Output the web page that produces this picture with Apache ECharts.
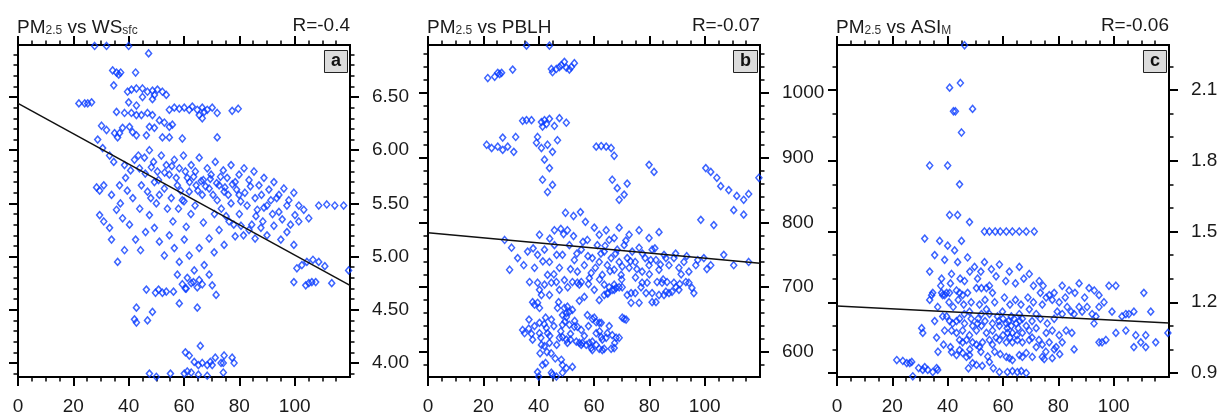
<!DOCTYPE html>
<html>
<head>
<meta charset="utf-8">
<script src="https://cdn.jsdelivr.net/npm/echarts@6/dist/echarts.min.js"></script>
<style>
  html, body { margin: 0; padding: 0; background: #fff; }
  #chart { width: 1220px; height: 419px; }
</style>
</head>
<body>
<div id="chart"></div>
<script>
// tick values
var xTicks = [0, 20, 40, 60, 80, 100];
var wsTicks = [4.0, 4.5, 5.0, 5.5, 6.0, 6.5];
var wsMinor = [3.9, 4.1, 4.2, 4.3, 4.4, 4.6, 4.7, 4.8, 4.9, 5.1, 5.2, 5.3, 5.4, 5.6, 5.7, 5.8, 5.9, 6.1, 6.2, 6.3, 6.4, 6.6, 6.7, 6.8, 6.9];
var pblhTicks = [600, 700, 800, 900, 1000];
var pblhMinor = [580, 620, 640, 660, 680, 720, 740, 760, 780, 820, 840, 860, 880, 920, 940, 960, 980, 1020, 1040, 1060];
var asiTicks = [0.9, 1.2, 1.5, 1.8, 2.1];
var asiMinor = [1.0, 1.1, 1.3, 1.4, 1.6, 1.7, 1.9, 2.0, 2.2];

// PM2.5 (x) against surface wind speed
var wsPoints = [
  [27.7,6.98],[32.0,6.98],[40.0,6.98],[47.2,6.91],
  [34.2,6.75],[35.6,6.73],[37.1,6.73],[36.4,6.71],[42.5,6.73],[34.6,6.61],
  [39.6,6.55],[41.0,6.57],[42.8,6.58],[45.0,6.58],[46.8,6.55],[48.6,6.56],[49.3,6.52],[50.4,6.57],[52.2,6.55],[53.6,6.52],[45.0,6.50],[48.6,6.48],[40.0,6.45],[42.8,6.42],
  [22.0,6.44],[24.1,6.44],[25.2,6.44],[26.6,6.45],
  [54.7,6.38],[56.5,6.40],[58.3,6.39],[60.1,6.40],[61.9,6.38],[63.0,6.41],[64.8,6.38],[66.6,6.40],[67.3,6.36],[68.4,6.38],[70.2,6.40],[72.0,6.35],[77.4,6.37],[79.6,6.39],[65.5,6.33],[66.6,6.30],
  [35.6,6.36],[38.5,6.35],[41.0,6.35],[42.8,6.33],[44.6,6.33],[46.8,6.35],[48.6,6.33],
  [30.2,6.23],[32.0,6.19],[34.9,6.16],[36.7,6.16],[37.8,6.21],[40.3,6.22],[41.4,6.17],[42.8,6.14],[36.0,6.12],
  [47.5,6.22],[49.3,6.21],[51.1,6.28],[52.9,6.26],[54.7,6.22],[55.8,6.24],[46.4,6.14],[52.2,6.12],[54.7,6.12],[59.4,6.11],[72.0,6.12],
  [28.8,6.10],[30.6,6.02],[33.1,5.95],[34.6,5.89],[28.4,5.65],[29.5,5.62],[31.0,5.67],[33.8,5.58],[36.7,5.67],[38.9,5.74],[40.7,5.81],[38.5,5.86],[42.1,5.91],[43.9,5.83],[45.7,5.93],[47.5,6.00],[49.0,5.89],[50.4,5.80],[51.8,5.95],[53.6,5.86],[54.7,5.77],[56.5,5.91],[58.3,5.83],[59.8,5.95],[61.2,5.74],[62.6,5.86],[64.1,5.80],[65.5,5.93],[67.0,5.72],[68.4,5.83],[69.8,5.77],[71.3,5.89],[72.7,5.67],[74.2,5.81],[75.6,5.74],[77.0,5.86],[78.5,5.70],[79.9,5.77],[81.7,5.83],[83.5,5.72],[85.3,5.80],[87.1,5.67],[88.9,5.74],[90.7,5.63],[92.5,5.70],[94.3,5.58],[96.1,5.64],[97.9,5.53],[99.7,5.60],[101.5,5.48],
  [44.6,5.67],[46.8,5.61],[49.3,5.70],[51.1,5.58],[52.9,5.64],[55.4,5.55],[57.6,5.67],[59.4,5.53],[61.9,5.61],[64.4,5.67],[66.6,5.58],[69.1,5.64],[72.0,5.53],[74.5,5.61],[77.0,5.50],[79.9,5.58],[82.8,5.48],[85.7,5.55],[88.9,5.46],[91.4,5.53],[94.3,5.42],[97.2,5.48],[100.1,5.39],[103.3,5.44],[108.7,5.48],[111.6,5.49],[114.5,5.48],[117.7,5.48],[101.5,5.33],[105.1,5.36],
  [43.5,5.95],[46.0,5.78],[48.2,5.84],[50.8,5.72],[53.0,5.79],[55.6,5.85],[57.2,5.74],[58.8,5.62],[60.5,5.80],[62.0,5.70],[63.5,5.75],[65.0,5.62],[66.2,5.71],[67.8,5.66],[69.5,5.73],[70.5,5.58],[71.8,5.69],[73.2,5.75],[74.8,5.65],[76.0,5.58],[77.5,5.68],[79.0,5.63],[80.5,5.52],[82.0,5.60],[84.0,5.66],[86.5,5.44],[88.0,5.58],[90.0,5.48],[92.0,5.40],[93.5,5.55],[95.5,5.35],[98.5,5.30],[84.5,5.30],[86.0,5.38],[88.5,5.33],[80.0,5.40],[81.5,5.20],[78.0,5.30],[62.5,5.40],[64.0,5.48],[58.0,5.45],[60.0,5.52],[56.0,5.33],[54.0,5.45],[50.0,5.50],[48.0,5.55],[44.0,5.45],[41.5,5.55],[39.5,5.62],[37.0,5.50],[60.8,5.28],[67.0,5.32],[71.0,5.40],[73.5,5.45],[75.2,5.38],
  [29.5,5.39],[31.0,5.33],[33.1,5.27],[35.6,5.44],[37.8,5.36],[40.3,5.30],[42.5,5.16],[44.3,5.06],[46.1,5.23],[47.5,5.39],[49.3,5.27],[51.1,5.14],[52.9,5.01],[54.7,5.20],[56.5,5.08],[58.3,4.95],[60.1,5.16],[61.9,5.01],[63.7,4.87],[65.5,5.08],[67.3,4.92],[69.1,5.17],[70.9,5.04],[72.7,5.25],[74.5,5.11],[76.3,5.33],[78.5,5.19],[80.6,5.29],[83.5,5.25],[85.7,5.17],[87.8,5.27],[90.0,5.20],[92.5,5.29],[95.0,5.16],[97.2,5.23],[99.7,5.11],[57.6,4.83],[61.2,4.80],[65.5,4.78],[69.1,4.83],[38.5,5.06],[36.0,4.95],[33.8,5.16],
  [100.8,4.89],[102.6,4.92],[104.4,4.95],[106.6,4.97],[108.7,4.95],[110.9,4.91],[99.7,4.76],[104.0,4.73],[105.1,4.75],[106.2,4.76],[107.6,4.76],[113.4,4.75],[119.5,4.87],
  [46.4,4.69],[49.7,4.66],[50.8,4.69],[52.2,4.66],[53.6,4.67],[56.2,4.67],[42.8,4.52],[42.1,4.41],[42.8,4.38],[46.8,4.40],[48.6,4.48],[58.3,4.56],[60.5,4.70],[59.4,4.74],[60.8,4.70],[62.6,4.75],[63.4,4.76],[64.8,4.71],[66.6,4.74],[70.2,4.73],[71.6,4.64],[64.8,4.52],
  [60.5,4.10],[61.9,4.07],[65.9,4.16],[63.7,4.01],[65.2,3.98],[66.6,4.00],[68.4,3.98],[69.5,4.01],[70.2,3.98],[71.3,4.05],[73.4,4.00],[74.2,4.00],[74.5,4.07],[77.4,4.05],[78.1,4.00],[74.2,3.91],[47.5,3.90],[55.1,3.90],[60.1,3.90],[61.2,3.92],[62.6,3.91],[65.2,3.89],[68.4,3.88],[50.0,3.87]
];

// PM2.5 (x) against boundary layer height
var pblhPoints = [
  [35.6,1073],[43.9,1073],
  [21.6,1023],[24.1,1025],[25.2,1031],[25.9,1029],[26.6,1031],[30.6,1036],
  [44.6,1037],[45.0,1032],[46.4,1037],[47.5,1040],[48.2,1043],[49.3,1048],[50.0,1039],[51.1,1036],[51.8,1040],[52.9,1046],
  [34.2,957],[35.6,958],[37.4,958],[41.0,955],[42.1,958],[43.9,960],[41.4,948],[42.8,952],[45.7,949],[47.5,961],[50.0,954],
  [27.0,931],[31.7,932],[39.6,932],
  [21.2,920],[23.0,915],[25.2,917],[27.0,912],[28.8,917],[31.0,909],[39.2,923],[41.0,915],[43.2,920],[45.0,909],[46.8,927],
  [42.1,897],[43.9,884],[45.0,858],[41.4,866],[43.2,847],
  [60.8,917],[62.6,918],[64.4,917],[66.2,915],[67.3,903],
  [66.6,866],[68.4,853],[70.9,843],[72.0,860],[69.1,835],
  [79.9,889],[81.7,878],
  [100.4,884],[102.2,878],[104.4,869],[105.8,856],[108.7,850],[111.6,841],[114.1,835],[115.9,844],[110.5,819],[114.1,812],[119.6,869],[98.6,804],[103.3,796],
  [49.7,815],[52.6,810],[55.1,816],[50.4,788],[52.6,779],[56.9,801],
  [27.7,773],[30.2,761],[32.4,745],[34.6,734],[29.5,727],[36.0,755],
  [40.3,781],[42.1,758],[43.9,739],[43.2,719],[45.7,765],[47.5,730],[48.6,750],[49.3,711],[51.1,765],[52.9,742],[54.0,724],[55.4,758],[56.5,734],[57.6,773],[58.3,714],[59.4,745],[60.5,730],[61.2,765],[61.9,739],[63.0,719],[63.7,755],[64.8,734],[65.5,773],[66.2,745],[67.3,727],[68.4,758],[69.1,739],[69.8,719],[70.9,765],[72.0,745],[72.7,730],[73.8,755],[74.9,739],[76.3,761],[77.4,724],[78.5,745],[79.9,734],[81.0,758],[82.4,742],[83.5,727],[85.3,750],[87.1,734],[88.9,745],[90.7,730],[92.5,739],[94.3,724],[96.8,734],[99.7,745],[102.2,734],
  [44.0,775],[46.5,750],[49.0,782],[51.5,728],[53.8,752],[56.0,770],[57.8,748],[59.0,722],[62.5,752],[64.0,764],[65.8,725],[67.8,752],[70.2,732],[71.5,772],[73.2,740],[75.5,728],[77.5,752],[80.5,742],[82.0,760],[84.0,735],[86.0,745],[89.5,752],[91.5,720],[93.5,748],[97.5,742],[100.8,728],[58.0,705],[62.0,712],[65.0,690],[70.0,712],[75.0,715],[80.0,720],[85.0,712],[91.0,705],[56.5,685],[50.5,700],[45.5,720],[41.5,740],[38.0,760],[48.0,790],
  [60.1,792],[61.9,781],[64.4,788],[67.3,776],[69.1,792],[72.7,781],[76.3,788],[79.9,776],[83.5,785],[54.7,704],[60.1,696],[47.5,696],[42.1,704],[63.7,704],[67.3,696],[45.7,788],[38.5,730],[36.7,708],[39.6,750],[106.9,750],[110.5,734],[115.9,739],
  [34.2,634],[34.9,629],[36.4,636],[37.8,619],[37.4,628],[40.3,629],[41.0,611],[42.1,609],[42.8,637],[43.2,629],[43.9,614],[40.3,645],[42.5,653],[44.6,650],[47.5,622],[48.6,623],[50.0,619],[50.4,614],[51.5,619],[53.6,616],[54.7,614],[55.4,611],[55.8,614],[57.2,611],[58.3,614],[59.4,616],[60.8,611],[59.0,606],[59.4,603],[61.9,605],[63.0,603],[63.7,605],[66.2,605],[67.3,606],[60.8,629],[62.6,623],[63.0,619],[64.4,622],[64.8,629],[66.6,626],[68.0,622],[69.1,622],[61.9,645],[59.4,651],[60.8,646],[62.6,645],[70.9,651],[71.6,650],[57.6,657],[60.1,653],[55.4,634],[54.0,639],[51.1,642],[48.6,642],[52.9,639],
  [36.5,650],[38.5,640],[40.8,622],[42.0,643],[44.0,625],[45.5,640],[46.5,611],[48.0,632],[49.5,647],[51.5,628],[53.0,648],[56.5,625],[58.0,640],[62.0,632],[65.5,640],[67.5,614],[44.5,598],[46.0,590],[43.0,600],[40.5,598],
  [40.3,696],[39.6,707],[41.0,688],[37.8,677],[38.5,673],[39.6,676],[40.3,668],[43.9,688],[47.2,677],[46.8,668],[49.3,668],[50.4,670],[51.1,662],[50.0,660],[52.2,665],[48.6,657],[50.0,654],[54.7,679],[44.6,707],[46.4,708],[52.2,708],[54.0,707],[55.4,708],
  [39.6,569],[41.4,580],[42.5,583],[44.6,568],[45.0,565],[46.4,562],[48.2,588],[48.6,580],[50.0,575],[48.6,568],[52.2,577],[40.0,562],
  [61.9,680],[63.7,688],[64.8,691],[65.5,700],[66.6,696],[67.3,704],[68.0,699],[69.1,700],[70.2,700],[72.0,688],[73.4,691],[73.4,676],[74.9,691],[76.3,676],[77.0,700],[78.8,691],[81.0,691],[81.0,677],[82.4,677],[83.5,688],[85.3,688],[86.0,693],[87.1,691],[88.2,693],[89.6,700],[90.7,696],[93.2,708],[94.3,707],[95.4,699],[96.1,691],[70.2,653],[77.4,707],[79.2,707],[82.8,708],[84.6,707],[86.4,708],[88.9,707]
];

// PM2.5 (x) against ASI_M
var asiPoints = [
  [46.1,2.29],[40.7,2.11],[44.6,2.13],[42.1,2.01],[42.8,2.01],[49.0,2.02],[45.0,1.92],
  [33.5,1.78],[40.0,1.78],[44.3,1.70],[43.6,1.57],[47.9,1.54],[40.7,1.57],
  [53.3,1.50],[55.1,1.50],[57.2,1.50],[59.0,1.50],[61.2,1.50],[63.4,1.50],[65.9,1.50],[68.4,1.50],[71.3,1.50],
  [31.7,1.47],[37.1,1.46],[40.0,1.44],[42.5,1.42],[45.0,1.46],[35.3,1.40],[38.9,1.38],[43.6,1.37],[47.2,1.39],[49.7,1.35],[53.3,1.37],[55.8,1.34],[58.7,1.36],[62.3,1.33],[65.9,1.35],[33.5,1.33],[37.8,1.30],[41.4,1.32],[46.1,1.29],[50.8,1.30],[69.5,1.32],[73.1,1.29],[81.4,1.27],[83.9,1.25],[87.5,1.28],[91.1,1.26],[94.7,1.23],[98.3,1.27],[100.8,1.27],[110.9,1.24],
  [34.6,1.24],[34.2,1.23],[37.8,1.24],[38.2,1.23],[38.9,1.23],[39.6,1.24],[40.7,1.24],[43.2,1.25],[44.3,1.24],[45.4,1.23],[47.2,1.24],[50.4,1.26],[52.2,1.26],[54.0,1.26],[55.1,1.27],[56.2,1.24],
  [39.6,1.14],[40.7,1.12],[41.8,1.11],[43.2,1.12],[44.3,1.13],[46.1,1.11],[47.9,1.16],[49.0,1.10],[50.8,1.11],[52.2,1.15],[54.0,1.17],[55.1,1.15],[56.2,1.11],[58.0,1.14],[59.8,1.16],[61.2,1.11],[63.0,1.14],[64.8,1.11],[65.9,1.15],[67.0,1.13],[68.4,1.10],[69.5,1.17],[72.0,1.15],[74.2,1.19],[75.6,1.22],[76.7,1.23],[77.8,1.21],[79.6,1.16],[80.3,1.20],[81.4,1.15],[83.2,1.18],[84.6,1.16],[85.7,1.15],[87.5,1.18],[88.6,1.16],[90.4,1.18],[92.2,1.15],[93.6,1.14],[94.7,1.18],[96.5,1.20],[99.4,1.16],[103.0,1.14],[104.4,1.15],[105.5,1.15],[107.3,1.16],[113.4,1.16],[30.6,1.09],[31.0,1.07],[36.0,1.05],[38.2,1.14],[92.9,1.11],
  [33.5,1.21],[36.4,1.18],[38.9,1.08],[35.3,1.12],
  [40.5,1.20],[42.0,1.18],[43.8,1.21],[45.8,1.19],[48.5,1.20],[51.5,1.19],[53.5,1.21],[57.0,1.20],[60.5,1.22],[62.5,1.19],[64.5,1.21],[66.5,1.19],[69.0,1.22],[71.0,1.20],[73.5,1.24],[78.5,1.24],[82.5,1.22],[86.0,1.24],[89.5,1.22],[93.0,1.25],[60.0,1.13],[62.0,1.12],[64.0,1.13],[66.0,1.12],[63.0,1.10],[65.5,1.09],[61.5,1.09],[58.5,1.12],[70.5,1.12],[73.5,1.13],[76.0,1.11],[78.5,1.13],[48.5,1.13],[46.0,1.15],[51.0,1.13],[53.5,1.12],[57.5,1.05],[60.0,1.06],[62.5,1.05],[65.0,1.06],[70.5,1.05],[73.0,1.04],[48.0,1.00],[52.0,0.99],[54.5,0.97],[57.0,0.99],[59.0,0.98],[75.5,0.99],[78.5,1.00],[80.5,0.98],[47.5,0.92],[52.5,0.93],[56.5,0.92],[41.0,1.01],[38.5,1.02],[36.5,0.99],[37.5,1.27],[41.0,1.28],[44.5,1.30],[48.0,1.33],[52.0,1.33],[57.5,1.31],[61.0,1.29],[64.5,1.28],[67.5,1.30],[71.0,1.27],[74.5,1.27],
  [94.7,1.03],[95.8,1.03],[97.2,1.04],[100.8,1.07],[104.4,1.08],[108.0,1.06],[111.6,1.06],[107.3,1.01],[111.6,1.01],[115.2,1.03],[109.8,1.03],[119.6,1.07],
  [21.6,0.955],[23.8,0.951],[25.2,0.942],[26.3,0.942],[27.0,0.947],[29.5,0.921],[31.0,0.913],[31.7,0.925],[32.8,0.913],[34.6,0.904],[36.0,0.921],[36.4,0.913],[27.4,0.886],[58.7,0.904],[61.6,0.904],[63.4,0.908],[65.2,0.904],[66.6,0.908],[68.4,0.900],
  [41.4,0.989],[43.2,0.976],[44.3,0.997],[45.4,0.985],[46.8,0.968],[47.9,0.976],[49.0,0.942],[50.4,0.934],[55.1,0.947],[61.2,0.968],[62.3,0.963],[63.4,0.955],[65.9,0.976],[67.0,0.968],[68.4,0.985],[70.6,0.968],[74.2,0.968],[74.9,0.959],[77.8,0.963],
  [44.3,1.04],[45.4,1.03],[46.8,1.04],[49.0,1.03],[50.4,1.02],[51.5,1.01],[52.6,1.03],[55.1,1.04],[56.2,1.02],[58.7,1.04],[61.2,1.03],[63.4,1.03],[65.2,1.04],[67.0,1.03],[69.5,1.04],[72.0,1.01],[74.2,1.02],[76.7,1.03],[79.2,1.01],[81.4,1.03],[85.7,1.00],
  [41.4,1.08],[43.2,1.07],[45.4,1.08],[47.9,1.06],[50.4,1.08],[52.2,1.10],[54.0,1.07],[56.2,1.08],[58.7,1.10],[61.6,1.07],[63.4,1.07],[67.0,1.07],[69.5,1.08],[72.0,1.09],[75.6,1.07],[77.8,1.08],[80.3,1.06],[82.8,1.08],[84.9,1.07]
];

// regression lines (end points)
var wsFit = [[0, 6.44], [120, 4.73]];
var pblhFit = [[0, 784], [120, 737]];
var asiFit = [[0, 1.184], [120, 1.112]];

var FONT = 'Liberation Sans, Arial, Helvetica, sans-serif';
var INK = '#1a1a1a';

var panels = [
  {left: 18, title: '{m|PM}{s|2.5}{m| vs WS}{s|sfc}', r: 'R=-0.4', tag: 'a',
   min: 3.868, max: 6.989, ticks: wsTicks, minor: wsMinor, digits: 2, points: wsPoints, fit: wsFit},
  {left: 428, title: '{m|PM}{s|2.5}{m| vs PBLH}', r: 'R=-0.07', tag: 'b',
   min: 561.4, max: 1074, ticks: pblhTicks, minor: pblhMinor, digits: 0, points: pblhPoints, fit: pblhFit},
  {left: 837, title: '{m|PM}{s|2.5}{m| vs ASI}{s|M}', r: 'R=-0.06', tag: 'c',
   min: 0.883, max: 2.291, ticks: asiTicks, minor: asiMinor, digits: 1, points: asiPoints, fit: asiFit}
];
var W = 332, H = 332, TOP = 45;

function makeX(gi, pos, labels) {
  return {
    type: 'value', gridIndex: gi, position: pos, min: 0, max: 120, interval: 20,
    axisLine: {show: true, onZero: false, lineStyle: {color: '#000', width: 2}},
    axisTick: {show: true, customValues: xTicks, length: 9, lineStyle: {color: '#000', width: 2}},
    minorTick: {show: true, splitNumber: 4, length: 4.5, lineStyle: {color: '#000', width: 1.5}},
    axisLabel: {show: labels, customValues: xTicks, margin: 20, fontSize: 19, color: INK, fontFamily: FONT},
    splitLine: {show: false}
  };
}

function makeY(gi, p, pos, values, len, labels) {
  return {
    type: 'value', gridIndex: gi, position: pos, min: p.min, max: p.max,
    axisLine: {show: true, onZero: false, lineStyle: {color: '#000', width: 2}},
    axisTick: {show: true, customValues: values, length: len, lineStyle: {color: '#000', width: len > 5 ? 2 : 1.5}},
    axisLabel: {show: labels, customValues: values, margin: 22, fontSize: 19, color: INK, fontFamily: FONT,
      formatter: function (v) { return v.toFixed(p.digits); }},
    splitLine: {show: false}
  };
}

var option = {animation: false, backgroundColor: '#fff', grid: [], xAxis: [], yAxis: [], title: [], series: []};

panels.forEach(function (p, i) {
  option.grid.push({left: p.left, top: TOP, width: W, height: H, containLabel: false, outerBoundsMode: 'none'});
  var xi = option.xAxis.length;
  option.xAxis.push(makeX(i, 'bottom', true), makeX(i, 'top', false));
  var yi = option.yAxis.length;
  option.yAxis.push(
    makeY(i, p, 'right', p.ticks, 9, true),
    makeY(i, p, 'left', p.ticks, 9, false),
    makeY(i, p, 'right', p.minor, 4.5, false),
    makeY(i, p, 'left', p.minor, 4.5, false)
  );
  option.series.push({
    type: 'scatter', xAxisIndex: xi, yAxisIndex: yi, data: p.points,
    symbol: 'diamond', symbolSize: [6, 7],
    itemStyle: {color: 'rgba(0,0,0,0)', borderColor: '#0a3cff', borderWidth: 1.5}
  });
  option.series.push({
    type: 'line', xAxisIndex: xi, yAxisIndex: yi, data: p.fit, showSymbol: false, silent: true,
    lineStyle: {color: '#111', width: 1.5}
  });
  option.title.push({
    text: p.title, left: p.left - 1, top: 15, padding: 0,
    textStyle: {
      fontFamily: FONT, fontSize: 19, fontWeight: 'normal', color: INK,
      rich: {
        m: {fontFamily: FONT, fontSize: 19, fontWeight: 'normal', color: INK, verticalAlign: 'bottom', lineHeight: 22},
        s: {fontFamily: FONT, fontSize: 12, fontWeight: 'normal', color: '#333', verticalAlign: 'bottom', lineHeight: 6}
      }
    }
  });
  option.title.push({
    text: p.r, right: 1220 - (p.left + W), top: 15, padding: 0,
    textStyle: {fontFamily: FONT, fontSize: 19, fontWeight: 'normal', color: INK, lineHeight: 22}
  });
  option.title.push({
    text: p.tag, right: 1220 - (p.left + W) + 2, top: 50, padding: [2, 7, 2, 7],
    backgroundColor: '#dcdcdc', borderColor: '#222', borderWidth: 1,
    textStyle: {fontFamily: FONT, fontSize: 18, fontWeight: 'bold', color: '#111', lineHeight: 19}
  });
});

var myChart = echarts.init(document.getElementById('chart'));
myChart.setOption(option);
</script>
</body>
</html>
